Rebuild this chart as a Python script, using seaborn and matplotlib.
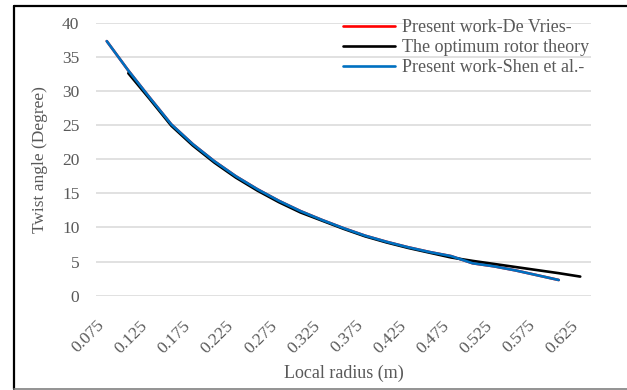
import numpy as np
import pandas as pd
import matplotlib
matplotlib.use("Agg")
import matplotlib.pyplot as plt
import matplotlib.transforms as mtransforms
import seaborn as sns
from matplotlib.lines import Line2D

# Local radius of each blade section (m)
radius = [0.075, 0.100, 0.125, 0.150, 0.175, 0.200, 0.225, 0.250, 0.275, 0.300,
          0.325, 0.350, 0.375, 0.400, 0.425, 0.450, 0.475, 0.500, 0.525, 0.550,
          0.575, 0.600, 0.625]

# Twist angle (degree) for each method
de_vries = [37.3, 33.0, 29.0, 25.1, 22.2, 19.7, 17.5, 15.6, 13.9, 12.4,
            11.1, 9.9, 8.8, 7.9, 7.1, 6.4, 5.8, 4.75, 4.3, 3.7,
            3.0, 2.3, np.nan]
optimum = [np.nan, 32.6, 28.8, 24.9, 22.0, 19.5, 17.3, 15.4, 13.7, 12.2,
           11.0, 9.8, 8.7, 7.8, 7.0, 6.3, 5.6, 5.1, 4.65, 4.2,
           3.75, 3.3, 2.8]
shen = [37.3, 33.0, 29.0, 25.1, 22.2, 19.7, 17.5, 15.6, 13.9, 12.4,
        11.1, 9.9, 8.8, 7.9, 7.1, 6.4, 5.8, 4.75, 4.3, 3.7,
        3.0, 2.3, np.nan]

series_names = ["Present work-De Vries-", "The optimum rotor theory",
                "Present work-Shen et al.-"]
series_colors = ["#FF0000", "#000000", "#0070C0"]
tick_labels = ["0.075", "0.125", "0.175", "0.225", "0.275", "0.325",
               "0.375", "0.425", "0.475", "0.525", "0.575", "0.625"]
y_ticks = [0, 5, 10, 15, 20, 25, 30, 35, 40]

frames = []
for name, vals in zip(series_names, [de_vries, optimum, shen]):
    frames.append(pd.DataFrame({"radius": radius, "twist": vals, "series": name}))
df = pd.concat(frames, ignore_index=True).dropna()

sns.set_style("white")
plt.rcParams["font.family"] = ["Liberation Serif", "DejaVu Serif"]
text_color = "#595959"

W, H = 627, 390
fig = plt.figure(figsize=(W / 100, H / 100), dpi=100)
ax = fig.add_axes([96 / W, 1 - 295.7 / H, (591 - 96) / W, (295.7 - 22.7) / H])

sns.lineplot(data=df, x="radius", y="twist", hue="series", hue_order=series_names,
             palette=series_colors, linewidth=1.9, ax=ax, legend=False,
             sort=True, estimator=None)

ax.set_xlim(0.0625, 0.6375)
ax.set_ylim(0, 40)
ax.set_yticks(y_ticks)
ax.set_yticklabels([str(v) for v in y_ticks])
ax.set_xticks(radius[::2])
ax.set_xticklabels(tick_labels, rotation=45, ha="right", va="top",
                   rotation_mode="anchor")
ax.tick_params(axis="both", length=0, labelsize=12.5, labelcolor=text_color)
ax.tick_params(axis="y", pad=12)
ax.tick_params(axis="x", pad=15)

# shift the slanted category labels so their ends sit left of each tick
shift = mtransforms.ScaledTranslation(-10 / 100, -1 / 100, fig.dpi_scale_trans)
for lbl in ax.get_xticklabels():
    lbl.set_transform(lbl.get_transform() + shift)

ax.grid(axis="y", color="#D9D9D9", linewidth=1.1)
ax.grid(axis="x", visible=False)
ax.set_axisbelow(True)
for s in ax.spines.values():
    s.set_visible(False)

ax.set_xlabel("Local radius (m)", fontsize=13, color=text_color, labelpad=6)
ax.set_ylabel("Twist angle (Degree)", fontsize=12.5, color=text_color, labelpad=10)

handles = [Line2D([], [], color=c, linewidth=1.9) for c in series_colors]
leg = ax.legend(handles, series_names, loc="upper left",
                bbox_to_anchor=(343 / W, 1 - 19 / H), bbox_transform=fig.transFigure,
                frameon=False, fontsize=13, handlelength=2.9, handletextpad=0.35,
                labelspacing=0.17, borderpad=0, borderaxespad=0)
for t in leg.get_texts():
    t.set_color(text_color)

# Outer border of the chart area
fig.add_artist(Line2D([14 / W, 14 / W], [1 / H, 1 - 6 / H], color="black",
                      linewidth=1.6, transform=fig.transFigure))
fig.add_artist(Line2D([14 / W, 1], [1 - 6 / H, 1 - 6 / H], color="black",
                      linewidth=1.6, transform=fig.transFigure))
fig.add_artist(Line2D([14 / W, 1], [1 / H, 1 / H], color="#808080",
                      linewidth=1.2, transform=fig.transFigure))

fig.savefig("out.png", dpi=100)
